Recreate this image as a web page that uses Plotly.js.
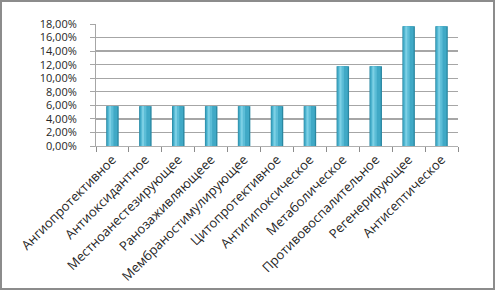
<!DOCTYPE html>
<html>
<head>
<meta charset="utf-8">
<script src="https://cdn.plot.ly/plotly-3.0.1.min.js"></script>
<style>
html,body{margin:0;padding:0;background:#fff;}
#wrap{position:relative;width:495px;height:290px;}
#chart{position:absolute;left:0;top:0;width:495px;height:290px;}
#frame{position:absolute;left:0;top:0;width:491px;height:286px;border:2px solid #8c8c8c;pointer-events:none;}
</style>
</head>
<body>
<div id="wrap"><div id="chart"></div><div id="frame"></div></div>
<script>
var categories = ["Ангиопротективное","Антиоксидантное","Местноанестезирующее","Ранозаживляющеее","Мембраностимулирующее","Цитопротективное","Антигипоксическое","Метаболическое","Противовоспалительное","Регенерирующее","Антисептическое"];
var values = [0.0588,0.0588,0.0588,0.0588,0.0588,0.0588,0.0588,0.1176,0.1176,0.1765,0.1765];
var tickValues = [0,0.02,0.04,0.06,0.08,0.10,0.12,0.14,0.16,0.18];

var font = "'Open Sans', 'Noto Sans', sans-serif";
function layer(w, off, color) {
  return {type:'bar', x:categories, y:values, width:w, offset:off,
    marker:{color:color, line:{width:0}}, hoverinfo:'skip', showlegend:false};
}
var data = [
  layer(0.38, -0.19, '#2a88a2'),
  layer(0.32, -0.17, '#40a9c6'),
  layer(0.16, -0.13, '#5cbdd7'),
  layer(0.06, -0.10, '#7dd0e5')
];
var layout = {
  width:495, height:290,
  margin:{l:96, r:37, t:24, b:144},
  paper_bgcolor:'#ffffff', plot_bgcolor:'#ffffff',
  separators:', ',
  barmode:'overlay',
  showlegend:false,
  font:{family:font, size:12, color:'#262626'},
  xaxis:{type:'category', tickangle:-45, showgrid:false, zeroline:false,
    showline:true, linecolor:'#b0b0b0', linewidth:1,
    ticks:'outside', tickson:'boundaries', ticklen:5, tickcolor:'#8c8c8c',
    tickfont:{family:font, size:13, color:'#262626'}, fixedrange:true},
  yaxis:{range:[0,0.18], tickvals:tickValues, tickformat:'.2%',
    showgrid:true, gridcolor:'#a6a6a6', gridwidth:1.3, zeroline:false,
    showline:true, linecolor:'#a6a6a6', linewidth:1,
    ticks:'outside', ticklen:5, tickcolor:'#a6a6a6', ticklabelstandoff:11,
    tickfont:{family:font, size:11, color:'#262626'}, fixedrange:true}
};
Plotly.newPlot('chart', data, layout, {displayModeBar:false, staticPlot:true});
</script>
</body>
</html>
